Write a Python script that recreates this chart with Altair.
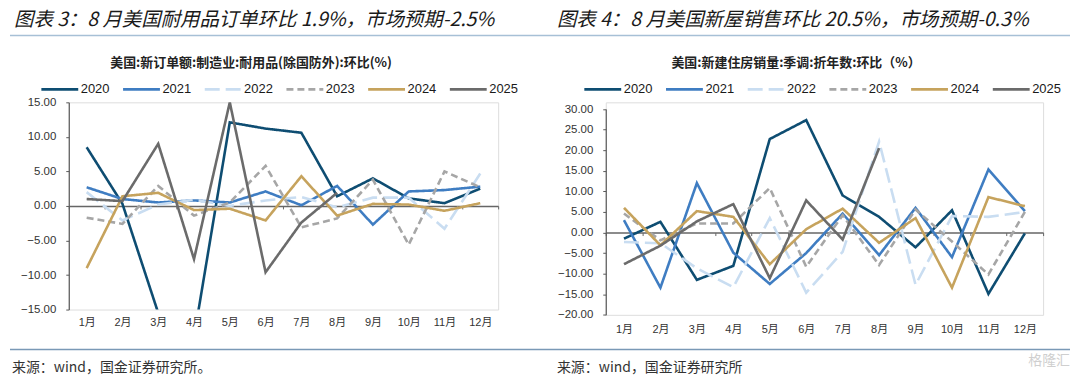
import altair as alt
import pandas as pd

# ---------------- data ----------------
months = ["1月", "2月", "3月", "4月", "5月", "6月", "7月", "8月", "9月", "10月", "11月", "12月"]
years = ["2020", "2021", "2022", "2023", "2024", "2025"]

# 美国:新订单额:制造业:耐用品(除国防外):环比(%)
durable_2020 = [8.5, 0.3, -15.5, -19.0, 12.1, 11.2, 10.6, 1.4, 4.0, 1.1, 0.4, 2.5]
durable_2021 = [2.7, 1.0, 0.5, 0.8, 0.5, 2.1, 0.1, 2.9, -2.7, 2.1, 2.3, 2.8]
durable_2022 = [2.0, -2.1, 0.2, 0.9, 0.0, 0.8, 1.3, -0.2, 1.2, 1.2, -3.3, 4.7]
durable_2023 = [-1.7, -2.6, 2.9, -1.4, 0.5, 5.8, -3.1, -1.8, 3.8, -5.6, 5.0, 2.7]
durable_2024 = [-9.0, 1.4, 1.9, -0.6, -0.4, -2.1, 4.3, -1.4, 0.3, 0.2, -0.7, 0.4]
durable_2025 = [1.0, 0.7, 9.0, -7.7, 15.0, -9.6, -2.4, 1.9]

# 美国:新建住房销量:季调:折年数:环比(%)
homes_2020 = [-1.5, 2.6, -11.5, -8.1, 22.7, 27.3, 9.0, 3.8, -3.6, 5.4, -14.9, -0.2]
homes_2021 = [3.0, -13.4, 12.0, -4.9, -12.5, -5.0, 4.6, -5.5, 6.0, -6.0, 15.3, 5.2]
homes_2022 = [-2.3, -2.6, -8.7, -13.3, 3.5, -14.6, -4.7, 22.1, -12.7, 4.0, 3.8, 5.0]
homes_2023 = [4.6, -1.9, 2.2, 2.2, 10.8, -8.3, 4.2, -7.9, 5.6, -2.2, -10.2, 5.0]
homes_2024 = [6.0, -3.1, 5.2, 3.8, -7.7, 0.8, 5.8, -2.5, 3.5, -13.4, 8.6, 6.4]
homes_2025 = [-7.7, -3.2, 2.7, 6.9, -11.1, 7.8, -1.7, 20.5]

durable_ticks = [-15, -10, -5, 0, 5, 10, 15]
homes_ticks = [-20, -15, -10, -5, 0, 5, 10, 15, 20, 25, 30]

colors = ["#0E4D72", "#3F7DC2", "#C9DDF1", "#A6A6A6", "#C6A35D", "#6B6B6B"]
dashes = [[1, 0], [1, 0], [15, 6], [7, 4], [1, 0], [1, 0]]
widths = [2.6, 2.6, 3.2, 3.2, 2.6, 4.8]

FONT = "Liberation Sans, Noto Sans CJK SC"
CJK = "Noto Sans CJK SC"


def frame(series):
    rows = []
    for year, vals in zip(years, series):
        for m, v in zip(months, vals):
            rows.append({"month": m, "year": year, "value": v})
    return pd.DataFrame(rows)


def one():
    return alt.Data(values=[{}])


def text(txt, x, y, size, weight="normal", style="normal", align="left",
         baseline="middle", color="#1a1a1a", font=CJK):
    return alt.Chart(one()).mark_text(
        text=txt, align=align, baseline=baseline, fontSize=size,
        fontWeight=weight, fontStyle=style, color=color, font=font
    ).encode(x=alt.value(x), y=alt.value(y))


def rule(x1, x2, y, color, w):
    return alt.Chart(one()).mark_rule(color=color, strokeWidth=w).encode(
        x=alt.value(x1), x2=alt.value(x2), y=alt.value(y))


def panel(df, ydomain, yticks, width, height, yrange, x_offset, label_pad,
          legend_x, decorations):
    legend = alt.Legend(
        orient="none", legendX=legend_x, legendY=-33, direction="horizontal",
        title=None, symbolType="stroke", symbolSize=1369, labelFontSize=13,
        labelColor="#1a1a1a", labelFont="Liberation Sans", labelOffset=1,
        columnPadding=8,
    )
    if yrange is not None:
        yscale = alt.Scale(domain=ydomain, nice=False, zero=False, range=yrange)
    else:
        yscale = alt.Scale(domain=ydomain, nice=False, zero=False)
    lines = alt.Chart(df).mark_line(clip=True).encode(
        x=alt.X(
            "month:N", sort=months, bandPosition=0.5,
            scale=alt.Scale(type="band", paddingInner=0, paddingOuter=0),
            axis=alt.Axis(
                title=None, labelAngle=0, orient="bottom", offset=x_offset,
                domain=True, domainColor="#666666", domainWidth=1.6,
                ticks=True, tickBand="extent", tickSize=3, tickColor="#666666",
                labelPadding=label_pad, labelFontSize=11, labelColor="#333333",
                labelFont=FONT, grid=False,
            ),
        ),
        y=alt.Y(
            "value:Q", scale=yscale,
            axis=alt.Axis(
                title=None, values=yticks, format=".2f", grid=False,
                domainColor="#595959", domainWidth=1.2, tickColor="#595959",
                tickSize=3, labelPadding=10, labelFontSize=11.5,
                labelColor="#333333", labelFont="Liberation Sans",
            ),
        ),
        color=alt.Color("year:N", scale=alt.Scale(domain=years, range=colors), legend=legend),
        strokeDash=alt.StrokeDash("year:N", scale=alt.Scale(domain=years, range=dashes), legend=legend),
        strokeWidth=alt.StrokeWidth("year:N", scale=alt.Scale(domain=years, range=widths), legend=legend),
    )
    return alt.layer(lines, *decorations).properties(width=width, height=height)


left_df = frame([durable_2020, durable_2021, durable_2022, durable_2023, durable_2024, durable_2025])
right_df = frame([homes_2020, homes_2021, homes_2022, homes_2023, homes_2024, homes_2025])

left_deco = [
    rule(-59, 1005, -67, "#A7C0D6", 1.5),
    rule(-59, 1005, 248, "#7A99B6", 1.5),
    text("图表 3：8 月美国耐用品订单环比 1.9%，市场预期-2.5%", -55, -92, 19.5,
         style="italic", baseline="top"),
    text("美国:新订单额:制造业:耐用品(除国防外):环比(%)", 183, -39, 13,
         weight="bold", align="center", color="#222222"),
    text("来源：wind，国金证券研究所。", -57, 267, 14, color="#333333"),
]

right_deco = [
    text("图表 4：8 月美国新屋销售环比 20.5%，市场预期-0.3%", -49, -92, 19.5,
         style="italic", baseline="top"),
    text("美国:新建住房销量:季调:折年数:环比（%）", 191, -39, 13,
         weight="bold", align="center", color="#222222"),
    text("来源：wind，国金证券研究所", -49, 267, 14, color="#333333"),
    text("格隆汇", 466, 260, 14, align="right", color="#CFCFCF"),
]

left = panel(left_df, [-15, 15], durable_ticks, 431, 208, None, -104, 107.5, -29, left_deco)
right = panel(right_df, [-20, 30], homes_ticks, 439, 213.3, [213.3, 6.7], -82.6, 88.3, -23, right_deco)

chart = alt.hconcat(left, right, spacing=108, bounds="flush").resolve_scale(
    color="independent", strokeDash="independent", strokeWidth="independent"
).resolve_legend(
    color="independent", strokeDash="independent", strokeWidth="independent"
).properties(
    padding={"left": 0, "top": 0, "right": 0, "bottom": 0}
).configure_view(stroke=None).configure(background="white")

chart.save("out.html", embed_options={"renderer": "svg", "actions": False})
